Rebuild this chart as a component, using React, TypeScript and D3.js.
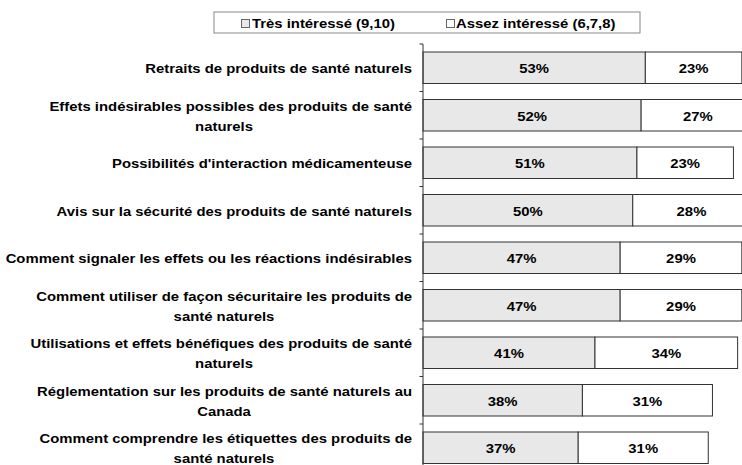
import React from "react";
import * as d3 from "d3";

const categories: string[][] = [
  ["Retraits de produits de santé naturels"],
  ["Effets indésirables possibles des produits de santé", "naturels"],
  ["Possibilités d'interaction médicamenteuse"],
  ["Avis sur la sécurité des produits de santé naturels"],
  ["Comment signaler les effets ou les réactions indésirables"],
  ["Comment utiliser de façon sécuritaire les produits de", "santé naturels"],
  ["Utilisations et effets bénéfiques des produits de santé", "naturels"],
  ["Réglementation sur les produits de santé naturels au", "Canada"],
  ["Comment comprendre les étiquettes des produits de", "santé naturels"],
];
const tresInteresse: number[] = [53, 52, 51, 50, 47, 47, 41, 38, 37];
const assezInteresse: number[] = [23, 27, 23, 28, 29, 29, 34, 31, 31];
const seriesNames: string[] = ["Très intéressé (9,10)", "Assez intéressé (6,7,8)"];

const W = 742;
const H = 465;
const FONT = "'Liberation Sans', Arial, sans-serif";
const FILL1 = "#e8e8e8";
const FILL2 = "#ffffff";
const STROKE = "#333333";
const SX = 1.24;

function T({
  x,
  y,
  anchor = "start",
  children,
}: {
  x: number;
  y: number;
  anchor?: string;
  children: React.ReactNode;
}) {
  return (
    <text
      transform={`translate(${x},${y}) scale(${SX},1)`}
      x={0}
      y={0}
      textAnchor={anchor}
      fontSize={12}
      fontWeight="bold"
      fill="#000"
    >
      {children}
    </text>
  );
}

export default function App() {
  const ids = categories.map((_, i) => String(i));
  const y = d3
    .scaleBand<string>()
    .domain(ids)
    .range([44, 471.5])
    .paddingInner(0.337)
    .paddingOuter(0.1685);
  const x = d3.scaleLinear().domain([0, 100]).range([423, 842.5]);
  const step = y.step();
  const ticks = d3.range(categories.length + 1).map((i) => 44 + i * step);

  return (
    <div style={{ position: "absolute", left: 0, top: 0 }}>
      <svg width={W} height={H} style={{ display: "block", fontFamily: FONT }}>
        <rect x={0} y={0} width={W} height={H} fill="#fff" />
        {/* legend */}
        <rect x={214} y={12} width={426} height={21} fill="#fff" stroke="#888" strokeWidth={1} />
        <rect x={241.5} y={19.5} width={8} height={8} fill={FILL1} stroke="#666" strokeWidth={1} />
        <T x={252} y={27.5}>{seriesNames[0]}</T>
        <rect x={446.5} y={19.5} width={8} height={8} fill={FILL2} stroke="#666" strokeWidth={1} />
        <T x={456} y={27.5}>{seriesNames[1]}</T>

        {/* bars */}
        {ids.map((id, i) => {
          const y0 = y(id)!;
          const bh = y.bandwidth();
          const v1 = tresInteresse[i];
          const v2 = assezInteresse[i];
          const cy = y0 + bh / 2;
          return (
            <g key={id}>
              <rect
                x={x(0)}
                y={y0}
                width={x(v1) - x(0)}
                height={bh}
                fill={FILL1}
                stroke={STROKE}
                strokeWidth={1}
              />
              <rect
                x={x(v1)}
                y={y0}
                width={x(v1 + v2) - x(v1)}
                height={bh}
                fill={FILL2}
                stroke={STROKE}
                strokeWidth={1}
              />
              <T x={(x(0) + x(v1)) / 2} y={cy + 5.5} anchor="middle">
                {v1}%
              </T>
              <T x={(x(v1) + x(v1 + v2)) / 2} y={cy + 5.5} anchor="middle">
                {v2}%
              </T>
              {categories[i].length === 1 ? (
                <T x={412} y={cy + 5.5} anchor="end">
                  {categories[i][0]}
                </T>
              ) : (
                <g>
                  <T x={412} y={cy - 4.5} anchor="end">
                    {categories[i][0]}
                  </T>
                  <T x={224} y={cy + 15.5} anchor="middle">
                    {categories[i][1]}
                  </T>
                </g>
              )}
            </g>
          );
        })}

        {/* axis */}
        <line x1={423} x2={423} y1={44} y2={471.5} stroke={STROKE} strokeWidth={1} />
        {ticks.map((t, i) => (
          <line key={i} x1={419.5} x2={423} y1={t} y2={t} stroke={STROKE} strokeWidth={1} />
        ))}
      </svg>
    </div>
  );
}
